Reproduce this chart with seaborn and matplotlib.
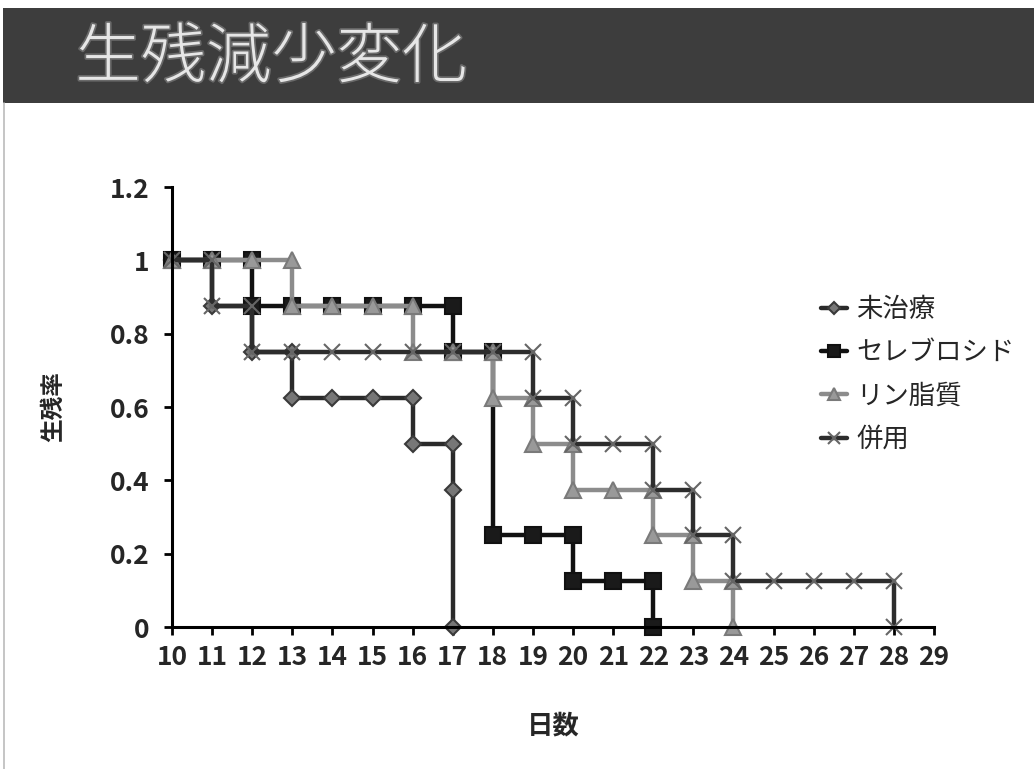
import numpy as np
import pandas as pd
import seaborn as sns
import matplotlib.pyplot as plt
import matplotlib.patheffects as pe
from matplotlib.patches import Rectangle
from matplotlib.lines import Line2D

# --- survival data (step points, day / rate)
days_untreated = [10, 11, 11, 12, 12, 13, 13, 14, 15, 16, 16, 17, 17, 17]
rate_untreated = [1, 1, 0.875, 0.875, 0.75, 0.75, 0.625, 0.625, 0.625, 0.625, 0.5, 0.5, 0.375, 0]

days_cerebroside = [10, 11, 12, 12, 13, 14, 15, 16, 17, 17, 18, 18, 19, 20, 20, 21, 22, 22]
rate_cerebroside = [1, 1, 1, 0.875, 0.875, 0.875, 0.875, 0.875, 0.875, 0.75, 0.75, 0.25, 0.25, 0.25,
                    0.125, 0.125, 0.125, 0]

days_phospholipid = [10, 11, 12, 13, 13, 14, 15, 16, 16, 17, 18, 18, 19, 19, 20, 20, 21, 22, 22, 23, 23, 24, 24]
rate_phospholipid = [1, 1, 1, 1, 0.875, 0.875, 0.875, 0.875, 0.75, 0.75, 0.75, 0.625, 0.625, 0.5, 0.5,
                     0.375, 0.375, 0.375, 0.25, 0.25, 0.125, 0.125, 0]

days_combined = [10, 11, 11, 12, 12, 13, 14, 15, 16, 17, 18, 19, 19, 20, 20, 21, 22, 22, 23, 23, 24, 24,
                 25, 26, 27, 28, 28]
rate_combined = [1, 1, 0.875, 0.875, 0.75, 0.75, 0.75, 0.75, 0.75, 0.75, 0.75, 0.75, 0.625, 0.625, 0.5,
                 0.5, 0.5, 0.375, 0.375, 0.25, 0.25, 0.125, 0.125, 0.125, 0.125, 0.125, 0]

series_names = ['未治療', 'セレブロシド', 'リン脂質', '併用']
x_ticks = list(range(10, 30))
x_tick_labels = [str(d) for d in x_ticks]
y_ticks = [0, 0.2, 0.4, 0.6, 0.8, 1, 1.2]
y_tick_labels = ['0', '0.2', '0.4', '0.6', '0.8', '1', '1.2']

sns.set_style('ticks')
plt.rcParams['font.family'] = ['Noto Sans CJK JP', 'DejaVu Sans']

fig = plt.figure(figsize=(10.34, 7.69), dpi=100)

# title banner
fig.patches.append(Rectangle((0.003, 1 - 103 / 769), 0.997, 95 / 769, transform=fig.transFigure,
                             facecolor='#3d3d3d', edgecolor='none', zorder=0))
fig.lines.append(Line2D([0.004, 0.004], [0, 1 - 103 / 769], transform=fig.transFigure,
                        color='#bbbbbb', lw=1.2))
fig.text(0.073, 1 - 59 / 769, '生残減少変化', fontsize=47, color='#e6e6e6', fontweight='light',
         va='center', ha='left',
         path_effects=[pe.withStroke(linewidth=2.5, foreground='#6a6a6a')])

ax = fig.add_axes([172 / 1034, 1 - 627 / 769, (934 - 172) / 1034, (627 - 187) / 769])

styles = [
    dict(x=days_untreated, y=rate_untreated, color='#2a2a2a', marker='D', ms=8,
         mfc='#777777', mec='#3a3a3a'),
    dict(x=days_cerebroside, y=rate_cerebroside, color='#111111', marker='s', ms=12,
         mfc='#1a1a1a', mec='#111111'),
    dict(x=days_phospholipid, y=rate_phospholipid, color='#8c8c8c', marker='^', ms=11,
         mfc='#999999', mec='#7a7a7a'),
    dict(x=days_combined, y=rate_combined, color='#2d2d2d', marker='x', ms=11,
         mfc='#666666', mec='#666666'),
]

for name, st in zip(series_names, styles):
    df = pd.DataFrame({'day': st['x'], 'rate': st['y']})
    sns.lineplot(data=df, x='day', y='rate', ax=ax, sort=False, estimator=None,
                 color=st['color'], lw=3.2, marker=st['marker'], markersize=st['ms'],
                 markerfacecolor=st['mfc'], markeredgecolor=st['mec'], markeredgewidth=1.5,
                 label=name, clip_on=False)

ax.set_xlim(10, 29)
ax.set_ylim(0, 1.2)
ax.set_xticks(x_ticks, labels=x_tick_labels, fontsize=19, fontweight='bold')
ax.set_yticks(y_ticks, labels=y_tick_labels, fontsize=19, fontweight='bold')
ax.tick_params(axis='x', direction='out', length=6, width=2, color='black', pad=6)
ax.tick_params(axis='y', direction='out', length=6, width=2, color='black', pad=10)
sns.despine(ax=ax)
for s in ['left', 'bottom']:
    ax.spines[s].set_linewidth(2.2)
    ax.spines[s].set_color('black')

ax.set_xlabel('日数', fontsize=19, fontweight='bold', labelpad=30)
ax.set_ylabel('生残率', fontsize=17, fontweight='bold', labelpad=32)

ax.get_legend().remove()
handles, labels = ax.get_legend_handles_labels()
fig.legend(handles, labels, loc='upper left', bbox_to_anchor=(797 / 1034, 1 - 272 / 769),
           frameon=False, fontsize=19, handlelength=1.0, handletextpad=0.35, labelspacing=0.62,
           markerscale=0.75)

fig.savefig('out.png', dpi=100)
